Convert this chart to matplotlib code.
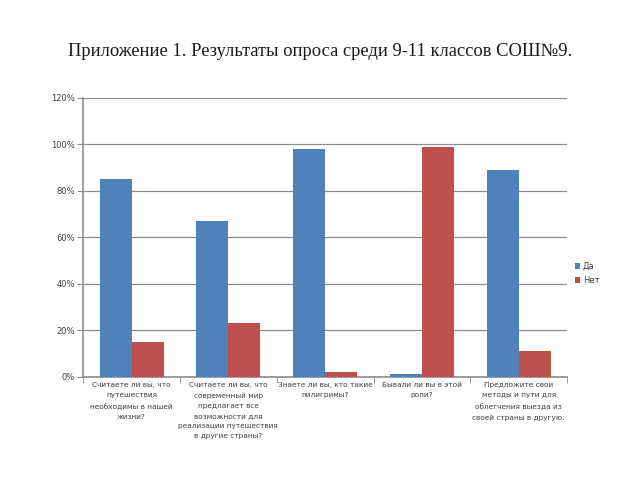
import numpy as np
import matplotlib.pyplot as plt
from matplotlib.ticker import FixedLocator, PercentFormatter

questions = [
    "Считаете ли вы, что\nпутешествия\nнеобходимы в нашей\nжизни?",
    "Считаете ли вы, что\nсовременный мир\nпредлагает все\nвозможности для\nреализации путешествия\nв другие страны?",
    "Знаете ли вы, кто такие\nпилигримы?",
    "Бывали ли вы в этой\nроли?",
    "Предложите свои\nметоды и пути для\nоблегчения выезда из\nсвоей страны в другую.",
]
yes = [85, 67, 98, 1, 89]
no = [15, 23, 2, 99, 11]

fig = plt.figure(figsize=(6.4, 4.8), dpi=100)
ax = fig.add_axes([0.13, 0.215, 0.756, 0.581])

x = np.arange(len(questions))
w = 0.33
ax.bar(x - w / 2, yes, w, color='#4F81BD', label='Да', zorder=3)
ax.bar(x + w / 2, no, w, color='#C0504D', label='Нет', zorder=3)

ax.set_xlim(-0.5, len(questions) - 0.5)
ax.set_ylim(0, 120)
ax.set_yticks(range(0, 121, 20))
ax.yaxis.set_major_formatter(PercentFormatter(decimals=0))
ax.grid(axis='y', color='#8c8c8c', linewidth=0.9, zorder=0)

ax.set_xticks(x)
ax.set_xticklabels(questions, fontsize=5.3, color='#404040', linespacing=1.8, va='top')
ax.tick_params(axis='x', length=0, pad=4)
ax.xaxis.set_minor_locator(FixedLocator(np.arange(-0.5, len(questions), 1)))
ax.tick_params(axis='x', which='minor', length=4, color='#8c8c8c', direction='out')
ax.tick_params(axis='y', labelsize=6, labelcolor='#404040', length=4, color='#8c8c8c', pad=2)

for s in ['top', 'right']:
    ax.spines[s].set_visible(False)
for s in ['left', 'bottom']:
    ax.spines[s].set_color('#8c8c8c')
    ax.spines[s].set_linewidth(1.2)

ax.legend(loc='center left', bbox_to_anchor=(1.0, 0.37), frameon=False, fontsize=6,
          handlelength=0.7, handleheight=0.7, handletextpad=0.3, labelspacing=0.6,
          labelcolor='#404040')

fig.text(0.5, 0.893, "Приложение 1. Результаты опроса среди 9-11 классов СОШ№9.",
         ha='center', va='center', fontsize=13.3, family='Liberation Serif', color='#1a1a1a')

fig.savefig('out.png', dpi=100)
